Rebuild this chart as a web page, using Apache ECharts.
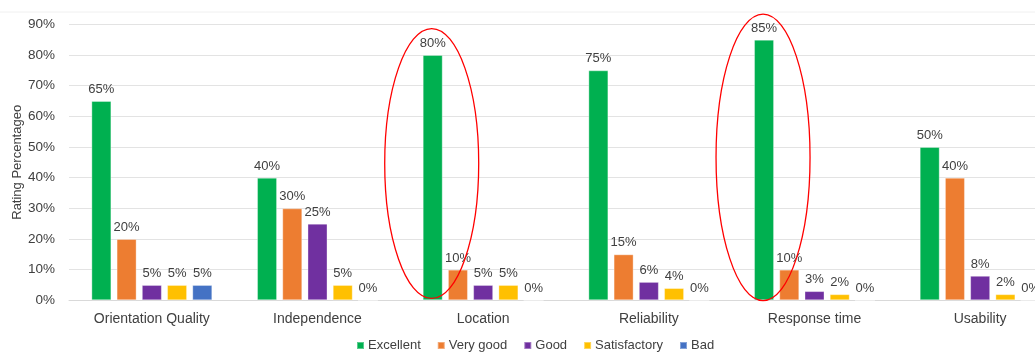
<!DOCTYPE html>
<html>
<head>
<meta charset="utf-8">
<script src="https://cdn.jsdelivr.net/npm/echarts@6/dist/echarts.min.js"></script>
<style>
  html, body { margin: 0; padding: 0; background: #ffffff; overflow: hidden; width: 1035px; height: 352px; }
  #chart { width: 1063px; height: 352px; }
</style>
</head>
<body>
<div id="chart"></div>
<script>
// Rating criteria and the share of each rating level (%)
const categories = ['Orientation Quality', 'Independence', 'Location', 'Reliability', 'Response time', 'Usability'];
const excellent    = [65, 40, 80, 75, 85, 50];
const veryGood     = [20, 30, 10, 15, 10, 40];
const good         = [5, 25, 5, 6, 3, 8];
const satisfactory = [5, 5, 5, 4, 2, 2];
const bad          = [5, 0, 0, 0, 0, 0];
const seriesNames  = ['Excellent', 'Very good', 'Good', 'Satisfactory', 'Bad'];
const seriesColors = ['#00B050', '#ED7D31', '#7030A0', '#FFC000', '#4472C4'];
// Criteria whose "Excellent" bar is circled, with the value span the ring covers
const highlighted  = [
  { category: 'Location', from: 0.6, to: 88.6 },
  { category: 'Response time', from: -0.1, to: 93.3 }
];

const FONT = '"Liberation Sans", Arial, sans-serif';
const TEXT = '#404040';

const chart = echarts.init(document.getElementById('chart'), null, { renderer: 'canvas' });

const values = [excellent, veryGood, good, satisfactory, bad];
const series = values.map((vals, i) => ({
  name: seriesNames[i],
  type: 'bar',
  data: vals,
  barGap: '26%',
  barCategoryGap: '27%',
  itemStyle: { color: seriesColors[i], borderColor: 'rgba(255,255,255,0.35)', borderWidth: 1 },
  label: {
    show: true,
    position: 'top',
    distance: 5,
    formatter: '{c}%',
    color: TEXT,
    fontFamily: FONT,
    fontSize: 13
  }
}));

chart.setOption({
  animation: false,
  backgroundColor: '#ffffff',
  textStyle: { fontFamily: FONT },
  grid: { left: 69, right: 0, top: 24.3, bottom: 51.7, containLabel: false, outerBoundsMode: 'none' },
  legend: {
    data: seriesNames,
    left: 356,
    top: 339,
    padding: 0,
    icon: 'rect',
    itemWidth: 7,
    itemHeight: 7,
    itemGap: 16,
    textStyle: { color: TEXT, fontFamily: FONT, fontSize: 13, padding: [0, 0, 0, -1] }
  },
  xAxis: {
    type: 'category',
    data: categories,
    axisLine: { lineStyle: { color: '#d9d9d9', width: 1 } },
    axisTick: { show: false },
    axisLabel: { color: TEXT, fontFamily: FONT, fontSize: 14, margin: 12, interval: 0 }
  },
  yAxis: {
    type: 'value',
    min: 0,
    max: 90,
    interval: 10,
    name: 'Rating Percentageo',
    nameLocation: 'middle',
    nameGap: 45,
    nameMoveOverlap: false,
    nameTextStyle: { color: TEXT, fontFamily: FONT, fontSize: 13 },
    axisLine: { show: false },
    axisTick: { show: false },
    splitLine: { lineStyle: { color: '#e3e3e3', width: 1 } },
    axisLabel: { color: TEXT, fontFamily: FONT, fontSize: 13.5, margin: 14, formatter: '{value}%' }
  },
  series: series
});

// Red rings around the highlighted "Excellent" bars, placed from the bar layout
function drawRings() {
  const data = chart.getModel().getSeriesByIndex(0).getData();
  const elements = highlighted.map(h => {
    const idx = categories.indexOf(h.category);
    const layout = data.getItemLayout(idx);
    const cx = layout.x + layout.width / 2 - 1;
    const yTop = chart.convertToPixel({ yAxisIndex: 0 }, h.to);
    const yBot = chart.convertToPixel({ yAxisIndex: 0 }, h.from);
    return {
      type: 'ellipse',
      shape: { cx: cx, cy: (yTop + yBot) / 2, rx: 47, ry: (yBot - yTop) / 2 },
      style: { fill: 'none', stroke: '#FF0000', lineWidth: 1.3 },
      z: 100
    };
  });
  elements.push({
    type: 'line',
    shape: { x1: 0, y1: 12, x2: 1063, y2: 12 },
    style: { stroke: '#f0f0f0', lineWidth: 1 },
    z: 0
  });
  chart.setOption({ graphic: elements });
}
drawRings();
</script>
</body>
</html>
